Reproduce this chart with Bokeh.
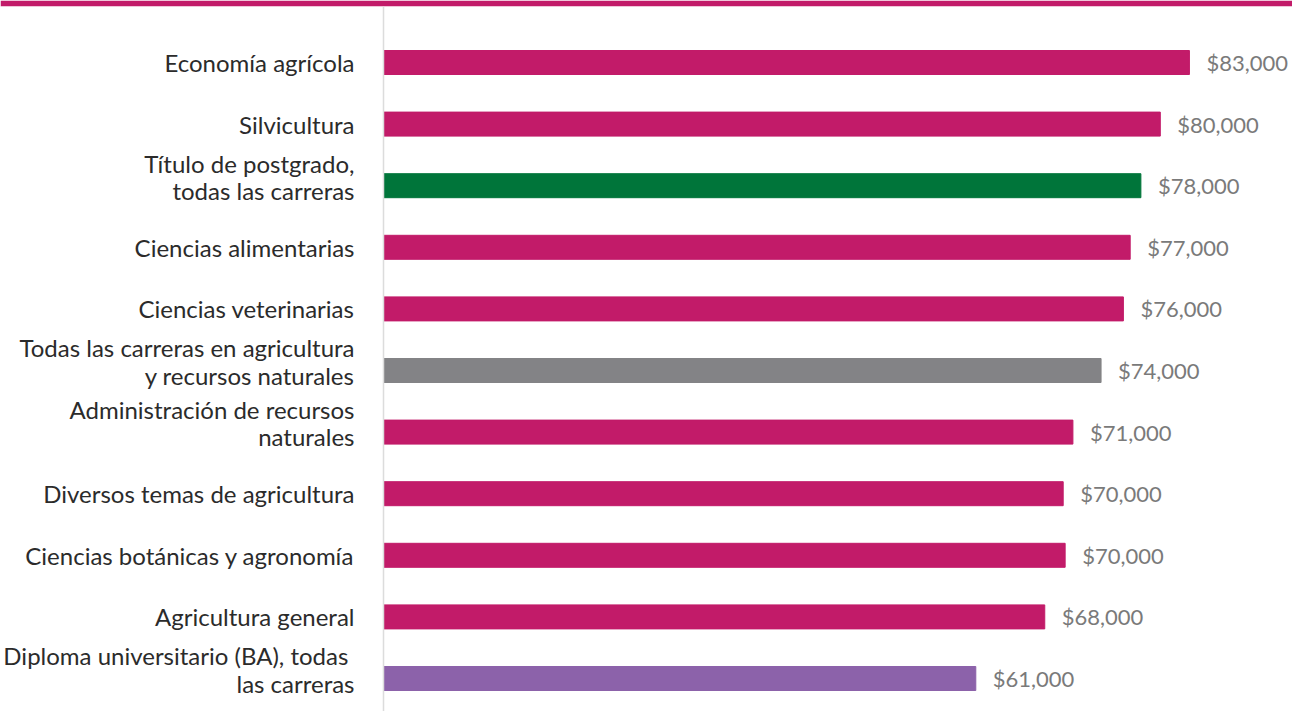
from bokeh.plotting import figure
from bokeh.models import ColumnDataSource, Range1d, Span
from bokeh.core.properties import value
from bokeh.embed import file_html
from bokeh.resources import INLINE

categories = [
    "Economía agrícola",
    "Silvicultura",
    "Título de postgrado,\ntodas las carreras",
    "Ciencias alimentarias",
    "Ciencias veterinarias",
    "Todas las carreras en agricultura\ny recursos naturales",
    "Administración de recursos\nnaturales",
    "Diversos temas de agricultura",
    "Ciencias botánicas y agronomía",
    "Agricultura general",
    "Diploma universitario (BA),  todas\nlas carreras",
]
values = [83000, 80000, 78000, 76900, 76200, 73900, 71000, 70000, 70200, 68100, 61000]
value_labels = ["$83,000", "$80,000", "$78,000", "$77,000", "$76,000", "$74,000",
                "$71,000", "$70,000", "$70,000", "$68,000", "$61,000"]
colors = ["#C21B69", "#C21B69", "#00753A", "#C21B69", "#C21B69", "#838386",
          "#C21B69", "#C21B69", "#C21B69", "#C21B69", "#8C62AA"]

n = len(categories)
ypos = [n - 1 - i for i in range(n)]
label_shift = [-9 if "\n" in c else 0 for c in categories]

src = ColumnDataSource(dict(y=ypos, v=values, cat=categories, lab=value_labels,
                            color=colors, zero=[0] * n, dy=label_shift))

W, H = 1292, 711
px_per_unit = 0.00971
x0 = 383
row_px = 61.6
p = figure(width=W, height=H, output_backend="svg", toolbar_location=None,
           x_range=Range1d(-x0 / px_per_unit, (W - x0) / px_per_unit),
           y_range=Range1d(-33 / row_px, 10 + 56 / row_px),
           x_axis_location=None, y_axis_location=None,
           min_border_left=0, min_border_right=0, min_border_bottom=0,
           min_border_top=6, border_fill_color="#C21B69",
           background_fill_color="white", outline_line_color=None)
p.grid.visible = False

p.add_layout(Span(location=0, dimension="height", line_color="#dcdcdc", line_width=1.5))

p.hbar(y="y", left=0, right="v", height=24 / row_px, color="color", source=src)

p.text(x="v", y="y", text="lab", source=src, x_offset=17,
       text_align="left", text_baseline="middle", text_color="#7a7a7a",
       text_font=value("Lato"), text_font_size="22px")

p.text(x="zero", y="y", text="cat", source=src, x_offset=-29, y_offset="dy",
       text_align="right", text_baseline="middle", text_color="#2b2b2b",
       text_font=value("Lato"), text_font_size="24px", text_line_height=0.94)

open("out.html", "w").write(file_html(p, INLINE))
